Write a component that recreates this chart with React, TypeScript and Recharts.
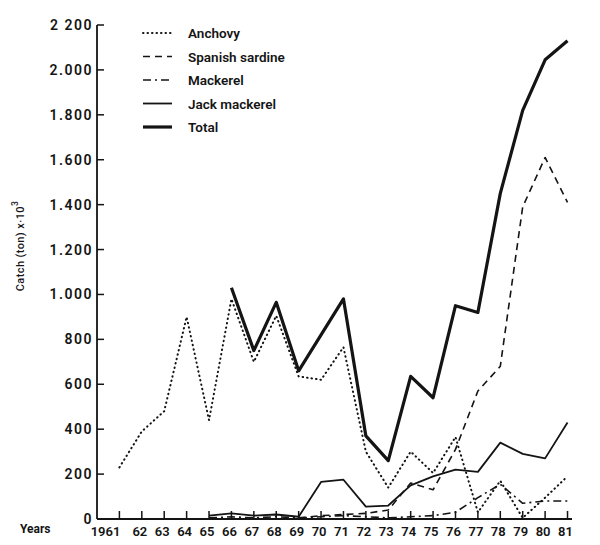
import { LineChart, Line, XAxis, YAxis, Legend } from 'recharts'

const years = [1961, 1962, 1963, 1964, 1965, 1966, 1967, 1968, 1969, 1970, 1971, 1972, 1973, 1974, 1975, 1976, 1977, 1978, 1979, 1980, 1981]
const yearLabels = ['1961', '62', '63', '64', '65', '66', '67', '68', '69', '70', '71', '72', '73', '74', '75', '76', '77', '78', '79', '80', '81']

const anchovy = [230, 390, 480, 900, 440, 980, 700, 905, 635, 620, 765, 300, 140, 300, 205, 365, 30, 170, 5, 95, 190]
const spanishSardine = [null, null, null, null, null, null, null, null, 5, 15, 20, 25, 40, 160, 130, 310, 570, 680, 1390, 1610, 1410]
const mackerel = [null, null, null, null, 5, 10, 5, 10, 5, 10, 15, 10, 5, 10, 15, 30, 95, 155, 70, 80, 80]
const jackMackerel = [null, null, null, null, 15, 25, 15, 20, 10, 165, 175, 55, 60, 150, 190, 220, 210, 340, 290, 270, 430]
const total = [null, null, null, null, null, 1030, 750, 965, 660, 820, 980, 370, 260, 635, 540, 950, 920, 1450, 1820, 2045, 2130]

const yTicks = [0, 200, 400, 600, 800, 1000, 1200, 1400, 1600, 1800, 2000, 2200]

const data = years.map((year, i) => ({
  year,
  anchovy: anchovy[i],
  sardine: spanishSardine[i],
  mackerel: mackerel[i],
  jack: jackMackerel[i],
  total: total[i],
}))

const INK = '#141414'
const FONT = 'Roboto, "DejaVu Sans", sans-serif'

const TOP = 25
const LEFT = 97
const AXIS_Y = 519

const series = [
  { key: 'anchovy', name: 'Anchovy', width: 2, dash: '0.5 4', cap: 'round' },
  { key: 'sardine', name: 'Spanish sardine', width: 1.6, dash: '7 5', cap: 'butt' },
  { key: 'mackerel', name: 'Mackerel', width: 1.6, dash: '8 4 2 4', cap: 'butt' },
  { key: 'jack', name: 'Jack mackerel', width: 1.8, dash: undefined, cap: 'butt' },
  { key: 'total', name: 'Total', width: 3.2, dash: undefined, cap: 'butt' },
] as const

function fmtY(v: number) {
  if (v === 2200) return '2 200'
  if (v >= 1000) return `${Math.floor(v / 1000)}.${String(v % 1000).padStart(3, '0')}`
  return String(v)
}

function XTick({ x, payload }: any) {
  const i = years.indexOf(payload.value)
  const first = i === 0
  return (
    <g>
      <line x1={x} x2={x} y1={AXIS_Y} y2={AXIS_Y - 8} stroke={INK} strokeWidth={1.5} />
      <text
        x={first ? x + 1 : x - 2}
        y={AXIS_Y + 17}
        textAnchor={first ? 'end' : 'middle'}
        fontFamily={FONT}
        fontWeight={600}
        fontSize={13}
        fill={INK}
      >
        {yearLabels[i]}
      </text>
    </g>
  )
}

function YTick({ y, payload }: any) {
  return (
    <g>
      <line x1={LEFT} x2={LEFT + 7} y1={y} y2={y} stroke={INK} strokeWidth={1.5} />
      <text
        x={LEFT - 4}
        y={y + 5}
        textAnchor="end"
        fontFamily={FONT}
        fontWeight={600}
        fontSize={14}
        letterSpacing={1.5}
        fill={INK}
      >
        {fmtY(payload.value)}
      </text>
    </g>
  )
}

function LegendBox() {
  return (
    <svg width={190} height={115} style={{ display: 'block' }}>
      {series.map((s, i) => {
        const y = 10 + i * 23.5
        return (
          <g key={s.key}>
            <line
              x1={3}
              x2={32}
              y1={y}
              y2={y}
              stroke={INK}
              strokeWidth={s.width}
              strokeDasharray={s.dash}
              strokeLinecap={s.cap}
            />
            <text x={48} y={y + 5} fontFamily={FONT} fontWeight={600} fontSize={13.5} fill={INK}>
              {s.name}
            </text>
          </g>
        )
      })}
    </svg>
  )
}

export default function App() {
  return (
    <div style={{ position: 'absolute', left: 0, top: 0, width: 600, height: 545, background: '#fff' }}>
      <LineChart width={600} height={545} data={data} margin={{ top: TOP, right: 28, bottom: 0, left: 0 }}>
        <XAxis
          dataKey="year"
          type="number"
          domain={[1960, 1981.2]}
          ticks={years}
          interval={0}
          height={26}
          axisLine={{ stroke: INK, strokeWidth: 1.8 }}
          tickLine={false}
          tick={<XTick />}
          label={{
            content: () => (
              <text x={20} y={AXIS_Y + 14} fontFamily={FONT} fontWeight={700} fontSize={12} fill={INK}>
                Years
              </text>
            ),
          }}
        />
        <YAxis
          type="number"
          domain={[0, 2200]}
          ticks={yTicks}
          interval={0}
          width={LEFT}
          axisLine={{ stroke: INK, strokeWidth: 1.8 }}
          tickLine={false}
          tick={<YTick />}
          label={{
            content: () => (
              <text
                x={24}
                y={246}
                transform="rotate(-90, 24, 246)"
                textAnchor="middle"
                fontFamily={FONT}
                fontWeight={500}
                fontSize={11}
                letterSpacing={0.4}
                fill={INK}
              >
                Catch (ton) x·10
                <tspan dy={-6} fontSize={8.5}>3</tspan>
              </text>
            ),
          }}
        />
        <Legend
          layout="horizontal"
          verticalAlign="middle"
          align="center"
          content={<LegendBox />}
          wrapperStyle={{ position: 'absolute', left: 140, top: 23, width: 190, height: 115 }}
        />
        {series.map((s) => (
          <Line
            key={s.key}
            dataKey={s.key}
            name={s.name}
            type="linear"
            stroke={INK}
            strokeWidth={s.width}
            strokeDasharray={s.dash}
            strokeLinecap={s.cap}
            strokeLinejoin="round"
            dot={false}
            activeDot={false}
            isAnimationActive={false}
          />
        ))}
      </LineChart>
    </div>
  )
}
